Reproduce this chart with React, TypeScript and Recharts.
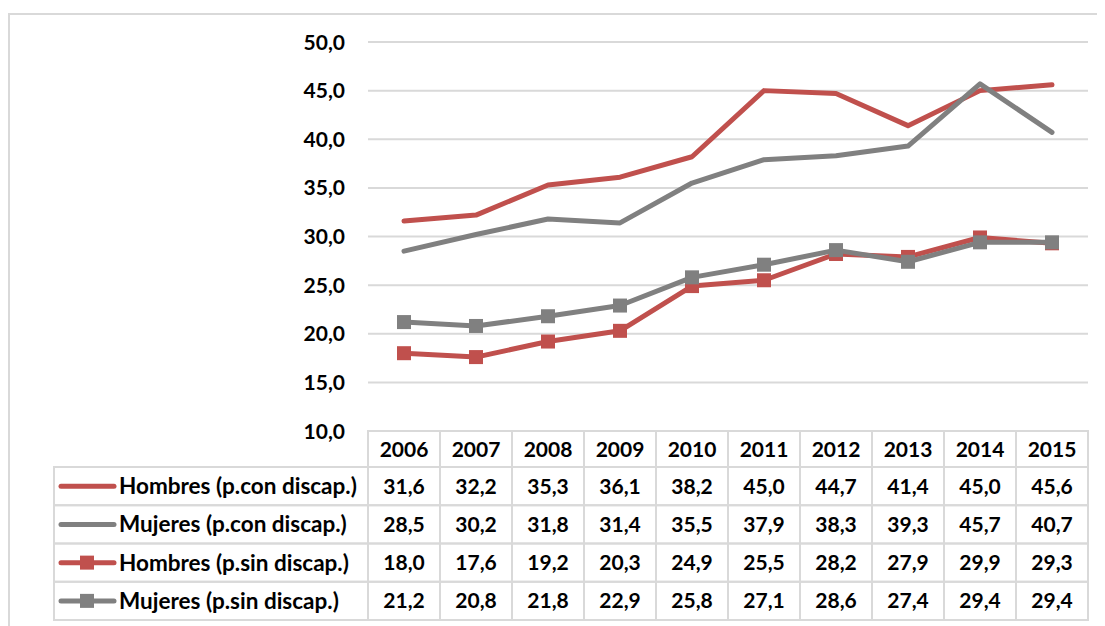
import React from "react";
import { LineChart, Line, XAxis, YAxis, CartesianGrid } from "recharts";

// data
const YEARS = ["2006", "2007", "2008", "2009", "2010", "2011", "2012", "2013", "2014", "2015"];
const HOMBRES_CON = [31.6, 32.2, 35.3, 36.1, 38.2, 45.0, 44.7, 41.4, 45.0, 45.6];
const MUJERES_CON = [28.5, 30.2, 31.8, 31.4, 35.5, 37.9, 38.3, 39.3, 45.7, 40.7];
const HOMBRES_SIN = [18.0, 17.6, 19.2, 20.3, 24.9, 25.5, 28.2, 27.9, 29.9, 29.3];
const MUJERES_SIN = [21.2, 20.8, 21.8, 22.9, 25.8, 27.1, 28.6, 27.4, 29.4, 29.4];
const Y_TICKS = [10, 15, 20, 25, 30, 35, 40, 45, 50];

const RED = "#c0504d";
const GRAY = "#808080";
const GRID = "#d9d9d9";
const FONT = "Lato, 'Noto Sans', sans-serif";

const SERIES = [
  { key: "hc", name: "Hombres (p.con discap.)", values: HOMBRES_CON, color: RED, marker: false },
  { key: "mc", name: "Mujeres (p.con discap.)", values: MUJERES_CON, color: GRAY, marker: false },
  { key: "hs", name: "Hombres (p.sin discap.)", values: HOMBRES_SIN, color: RED, marker: true },
  { key: "ms", name: "Mujeres (p.sin discap.)", values: MUJERES_SIN, color: GRAY, marker: true },
];

const chartData = YEARS.map((year, i) => {
  const row: Record<string, string | number> = { year };
  SERIES.forEach((s) => (row[s.key] = s.values[i]));
  return row;
});

// layout
const W = 1097;
const H = 614;
const PLOT_LEFT = 360;
const PLOT_TOP = 34;
const PLOT_BOTTOM = 423;
const COL_W = 72;
const HEADER_H = 36;
const ROW_H = 38.25;
const LEGEND_LEFT = 46;

const fmt = (v: number) => v.toFixed(1).replace(".", ",");

const textStyle = { fontFamily: FONT, fontWeight: 700, fontSize: 21, fill: "#000" };

function YTick({ y, payload }: any) {
  return (
    <text x={PLOT_LEFT - 23} y={y} dy="0.36em" textAnchor="end" style={textStyle}>
      {fmt(payload.value)}
    </text>
  );
}

function TableColumn({ x, payload, index }: any) {
  const top = PLOT_BOTTOM;
  const left = x - COL_W / 2;
  return (
    <g>
      <rect x={left} y={top} width={COL_W} height={HEADER_H} fill="none" stroke={GRID} strokeWidth={2} />
      <text x={x} y={top + HEADER_H / 2} dy="0.36em" textAnchor="middle" style={textStyle}>
        {payload.value}
      </text>
      {SERIES.map((s, r) => {
        const ry = top + HEADER_H + r * ROW_H;
        return (
          <g key={s.key}>
            <rect x={left} y={ry} width={COL_W} height={ROW_H} fill="none" stroke={GRID} strokeWidth={2} />
            <text x={x} y={ry + ROW_H / 2} dy="0.36em" textAnchor="middle" style={textStyle}>
              {fmt(s.values[index])}
            </text>
          </g>
        );
      })}
    </g>
  );
}

function SquareDot(color: string) {
  return (props: any) => {
    const { cx, cy, index } = props;
    return <rect key={`dot-${index}`} x={cx - 7} y={cy - 7} width={14} height={14} fill={color} />;
  };
}

function LegendColumn() {
  const top = PLOT_BOTTOM + HEADER_H;
  const w = PLOT_LEFT - LEGEND_LEFT;
  return (
    <svg width={W} height={H} style={{ position: "absolute", left: 0, top: 0, pointerEvents: "none" }}>
      {SERIES.map((s, r) => {
        const ry = top + r * ROW_H;
        const cy = ry + ROW_H / 2;
        return (
          <g key={s.key}>
            <rect x={LEGEND_LEFT} y={ry} width={w} height={ROW_H} fill="none" stroke={GRID} strokeWidth={2} />
            <line x1={LEGEND_LEFT + 7} y1={cy} x2={LEGEND_LEFT + 60} y2={cy} stroke={s.color} strokeWidth={5} strokeLinecap="round" />
            {s.marker && <rect x={LEGEND_LEFT + 26} y={cy - 7} width={14} height={14} fill={s.color} />}
            <text x={LEGEND_LEFT + 65} y={cy} dy="0.36em" style={{ ...textStyle, fontSize: 22.5 }}>
              {s.name}
            </text>
          </g>
        );
      })}
    </svg>
  );
}

export default function App() {
  return (
    <div style={{ position: "relative", width: W, height: 618 }}>
      <style>{"body{overflow:hidden}"}</style>
      <div
        style={{
          position: "absolute",
          left: 0,
          top: 5,
          width: W,
          height: 613,
          borderLeft: `2px solid ${GRID}`,
          borderTop: `2px solid ${GRID}`,
          boxSizing: "border-box",
        }}
      />
      <div style={{ position: "absolute", left: 0, top: 0 }}>
        <LineChart width={W} height={H} data={chartData} margin={{ top: PLOT_TOP, right: 17, bottom: 0, left: 0 }}>
          <CartesianGrid vertical={false} stroke={GRID} strokeWidth={2} />
          <XAxis
            dataKey="year"
            height={H - PLOT_BOTTOM}
            axisLine={false}
            tickLine={false}
            tickSize={0}
            tickMargin={0}
            interval={0}
            padding={{ left: COL_W / 2, right: COL_W / 2 }}
            tick={<TableColumn />}
          />
          <YAxis
            width={PLOT_LEFT}
            domain={[10, 50]}
            ticks={Y_TICKS}
            axisLine={false}
            tickLine={false}
            tick={<YTick />}
          />
          {SERIES.map((s) => (
            <Line
              key={s.key}
              dataKey={s.key}
              name={s.name}
              stroke={s.color}
              strokeWidth={5}
              strokeLinecap="round"
              strokeLinejoin="round"
              dot={s.marker ? SquareDot(s.color) : false}
              activeDot={false}
              isAnimationActive={false}
            />
          ))}
        </LineChart>
        <LegendColumn />
      </div>
    </div>
  );
}
